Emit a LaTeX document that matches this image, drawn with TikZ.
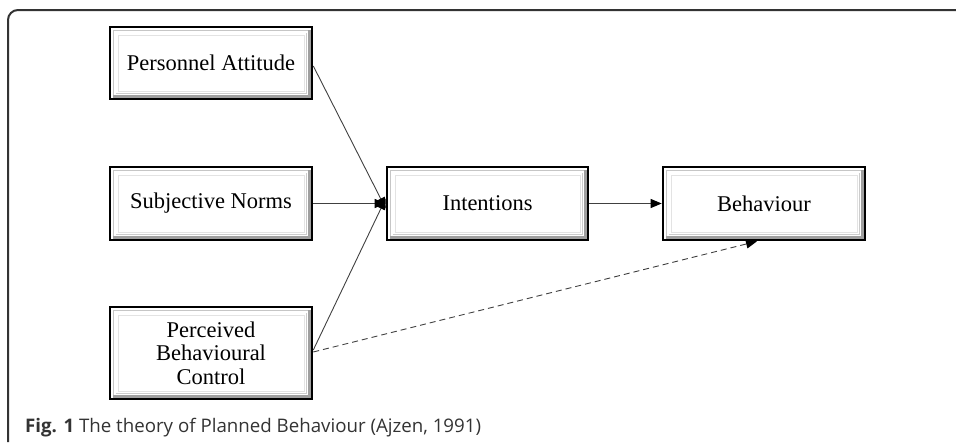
\documentclass[tikz,border=0pt]{standalone}
\usepackage{fontspec}
\setmainfont{Liberation Serif}
\newfontfamily\capfont{Open Sans}
\usetikzlibrary{arrows.meta}
\tikzset{
  bx/.style={draw=black, line width=2.6pt, fill=white, minimum width=202pt, inner sep=0pt,
    align=center, font=\fontsize{22.5}{23.5}\selectfont,
    path picture={
      \draw[gray!45, line width=0.8pt]
        ([shift={(3.5pt,-3.5pt)}]path picture bounding box.north west) rectangle
        ([shift={(-3.5pt,3.5pt)}]path picture bounding box.south east);
      \draw[gray!75, line width=3pt]
        ([shift={(3pt,3pt)}]path picture bounding box.south west) --
        ([shift={(-3pt,3pt)}]path picture bounding box.south east) --
        ([shift={(-3pt,-3pt)}]path picture bounding box.north east);
      \draw[gray!40, line width=1.2pt]
        ([shift={(5.5pt,5.6pt)}]path picture bounding box.south west) --
        ([shift={(-5.6pt,5.6pt)}]path picture bounding box.south east) --
        ([shift={(-5.6pt,-5.5pt)}]path picture bounding box.north east);
      \draw[gray!22, line width=1pt]
        ([shift={(8pt,-8pt)}]path picture bounding box.north west) rectangle
        ([shift={(-8pt,8pt)}]path picture bounding box.south east);
    }},
  arr/.style={draw=black!75, line width=0.9pt, -{Triangle[length=11pt,width=9pt,color=black]}},
}
\begin{document}
\begin{tikzpicture}[x=1pt,y=-1pt]
\useasboundingbox (0,0) rectangle (956,442);
% outer frame
\draw[black!80, line width=2pt, rounded corners=10pt] (8,442) -- (8,10) -- (957,10);
% boxes
\node[bx, minimum height=72pt] (pa) at (211,63) {Personnel Attitude};
\node[bx, minimum height=73pt] (sn) at (211,203.5) {Subjective Norms};
\node[bx, minimum height=92pt] (pbc) at (211,353) {Perceived\\Behavioural\\Control};
\node[bx, minimum height=73pt, minimum width=201pt] (int) at (487.5,203.5) {Intentions};
\node[bx, minimum height=73pt] (beh) at (764,203.5) {Behaviour};
% connectors
\draw[arr] ([yshift=-3pt]pa.east) -- ([yshift=-5pt]int.west);
\draw[arr] (sn.east) -- (int.west);
\draw[arr] ([yshift=3pt]pbc.east) -- ([yshift=5pt]int.west);
\draw[arr] (int.east) -- (beh.west);
\draw[arr, dashed, dash pattern=on 6pt off 4pt] ([yshift=1pt]pbc.east) -- ([xshift=-7pt]beh.south);
% caption
\node[anchor=base west, inner sep=0pt, text=black!80, font=\capfont\fontsize{18.7}{22}\selectfont] (cap) at (25,432)
  {\textbf{Fig. 1} The theory of Planned Behaviour (Ajzen, 1991)};
\end{tikzpicture}
\end{document}
